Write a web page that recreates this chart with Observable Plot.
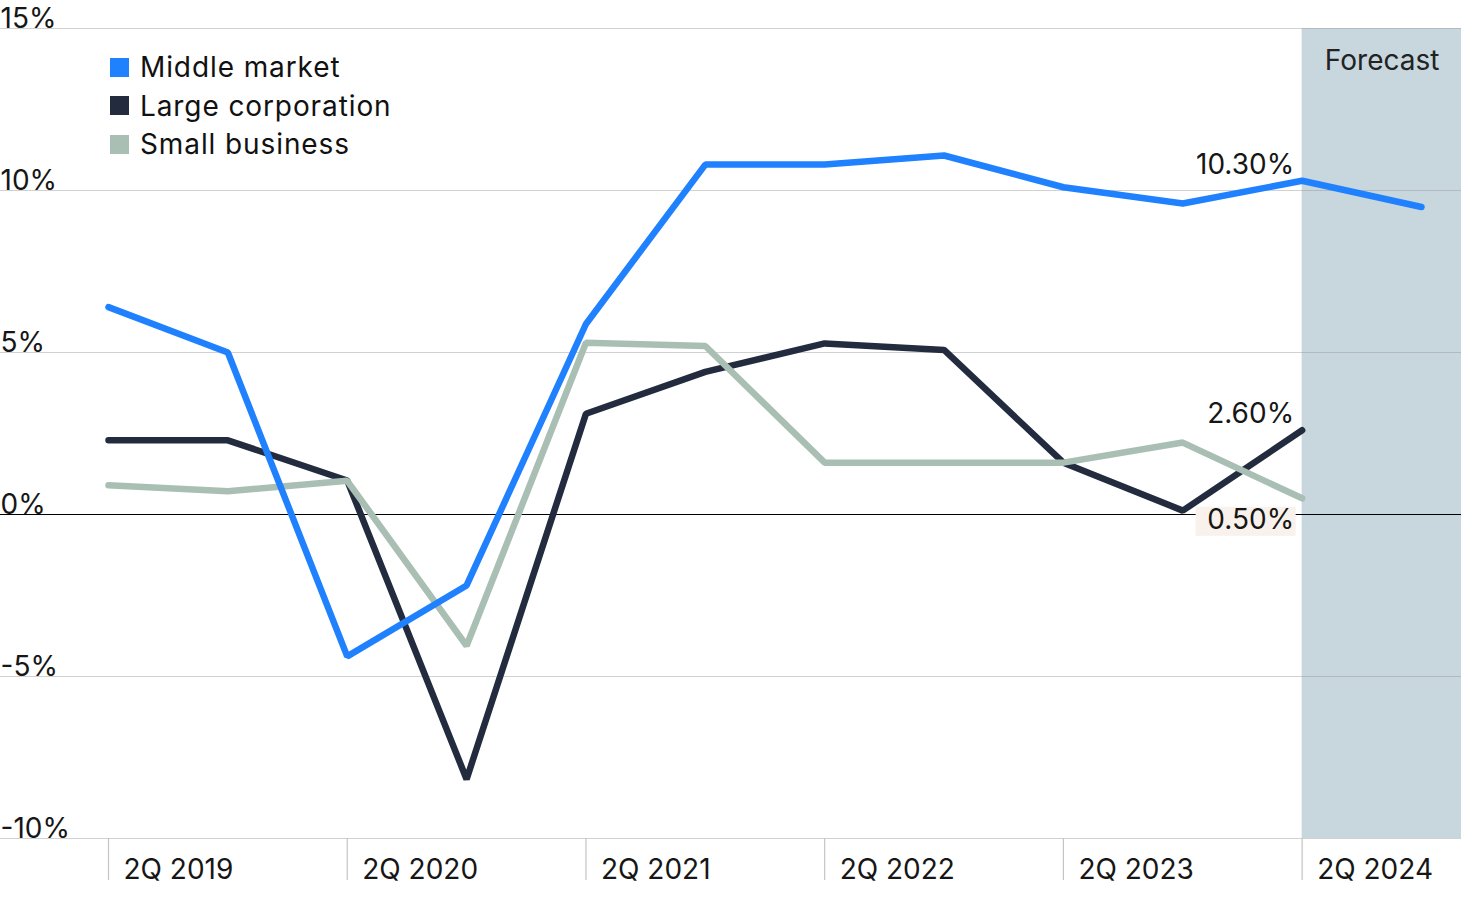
<!DOCTYPE html>
<html>
<head>
<meta charset="utf-8">
<script src="https://cdn.jsdelivr.net/npm/d3@7"></script>
<script src="https://cdn.jsdelivr.net/npm/@observablehq/plot@0.6"></script>
<style>
  body { margin: 0; background: #fff; font-family: Inter, "Noto Sans", sans-serif; }
  #wrap { position: relative; width: 1461px; height: 901px; }
  #legend { position: absolute; left: 110px; top: 48px; font-size: 28px; color: #111; letter-spacing: 0.9px; }
  #legend .row { display: flex; align-items: center; height: 38.5px; }
  #legend .sw { width: 19px; height: 19px; margin-right: 11px; }
</style>
</head>
<body>
<div id="wrap"><div id="legend"></div></div>
<script>
const periods = ["2Q 2019","4Q 2019","2Q 2020","4Q 2020","2Q 2021","4Q 2021","2Q 2022","4Q 2022","2Q 2023","4Q 2023","2Q 2024","4Q 2024"];
const middleMarket = [6.4, 5.0, -4.38, -2.19, 5.88, 10.8, 10.8, 11.08, 10.1, 9.6, 10.3, 9.49];
const largeCorporation = [2.29, 2.29, 1.05, -8.17, 3.11, 4.4, 5.28, 5.08, 1.6, 0.12, 2.6, null];
const smallBusiness = [0.9, 0.72, 1.04, -4.05, 5.3, 5.2, 1.6, 1.6, 1.6, 2.22, 0.5, null];
const seriesNames = ["Middle market", "Large corporation", "Small business"];
const seriesColors = ["#2081ff", "#232c3f", "#aabfb3"];
const yTicks = [15, 10, 5, 0, -5, -10];
const xTickIdx = [0, 2, 4, 6, 8, 10];
const forecastStart = 10;
const forecastLabel = "Forecast";
const annotations = [
  {i: 10, v: 10.3, label: "10.30%"},
  {i: 10, v: 2.6, label: "2.60%"},
  {i: 10, v: 0.5, label: "0.50%"}
];

const toRows = (vals) => vals.map((v, i) => ({i, v})).filter(d => d.v != null);
const ink = "#161616";

const chart = Plot.plot({
  width: 1461,
  height: 901,
  marginLeft: 0, marginRight: 0, marginTop: 28, marginBottom: 63,
  style: {fontFamily: "Inter, 'Noto Sans', sans-serif", fontSize: "28px", color: ink, background: "transparent", overflow: "visible"},
  x: {type: "linear", domain: [0, 11], range: [108, 1421], axis: null},
  y: {type: "linear", domain: [-10, 15], range: [838, 28], axis: null},
  marks: [
    Plot.rect([{x1: forecastStart, x2: 11}], {x1: "x1", x2: "x2", y1: () => -10, y2: () => 15, fill: "#c8d6de", insetRight: -40}),
    Plot.ruleY(yTicks.filter(d => d !== 0), {y: d => d, stroke: "#999", strokeOpacity: 0.45, strokeWidth: 1.2}),
    Plot.ruleY([0], {y: d => d, stroke: "#000", strokeWidth: 1}),
    Plot.ruleX(xTickIdx, {x: d => d, y1: () => -10, y2: () => -10, insetBottom: -42, stroke: "#c4c4c4", strokeWidth: 1.2}),
    Plot.text(yTicks, {y: d => d, frameAnchor: "left", text: d => d + "%", textAnchor: "start", lineAnchor: "bottom", dy: -1, fill: ink, fontSize: 28}),
    Plot.text(xTickIdx, {x: d => d, y: () => -10, text: d => periods[d], textAnchor: "start", lineAnchor: "bottom", dx: 15, dy: 40, fill: ink, fontSize: 28, letterSpacing: 0.8}),
    Plot.text([forecastLabel], {x: () => forecastStart, y: () => 15, text: d => d, textAnchor: "middle", lineAnchor: "bottom", dx: 80, dy: 41, fill: "#222", fontSize: 28, letterSpacing: 1.2}),
    Plot.line(toRows(largeCorporation), {x: "i", y: "v", stroke: seriesColors[1], strokeWidth: 6.5, strokeLinecap: "round", strokeLinejoin: "miter"}),
    Plot.line(toRows(smallBusiness), {x: "i", y: "v", stroke: seriesColors[2], strokeWidth: 6.5, strokeLinecap: "round", strokeLinejoin: "miter"}),
    Plot.line(toRows(middleMarket), {x: "i", y: "v", stroke: seriesColors[0], strokeWidth: 6.5, strokeLinecap: "round", strokeLinejoin: "miter"}),
    Plot.rect([annotations[2]], {x1: "i", x2: "i", y1: "v", y2: "v", insetLeft: -106, insetRight: 6, insetTop: 9, insetBottom: -38, fill: "#f9f1eb"}),
    Plot.text(annotations.slice(0, 2), {x: "i", y: "v", text: "label", textAnchor: "end", lineAnchor: "bottom", dx: -8, dy: -7, fill: ink, fontSize: 28}),
    Plot.text([annotations[2]], {x: "i", y: "v", text: "label", textAnchor: "end", lineAnchor: "bottom", dx: -8, dy: 31, fill: ink, fontSize: 28})
  ]
});
document.getElementById("wrap").prepend(chart);

const legend = document.getElementById("legend");
seriesNames.forEach((n, k) => {
  const row = document.createElement("div");
  row.className = "row";
  row.innerHTML = `<span class="sw" style="background:${seriesColors[k]}"></span><span>${n}</span>`;
  legend.appendChild(row);
});
</script>
</body>
</html>
